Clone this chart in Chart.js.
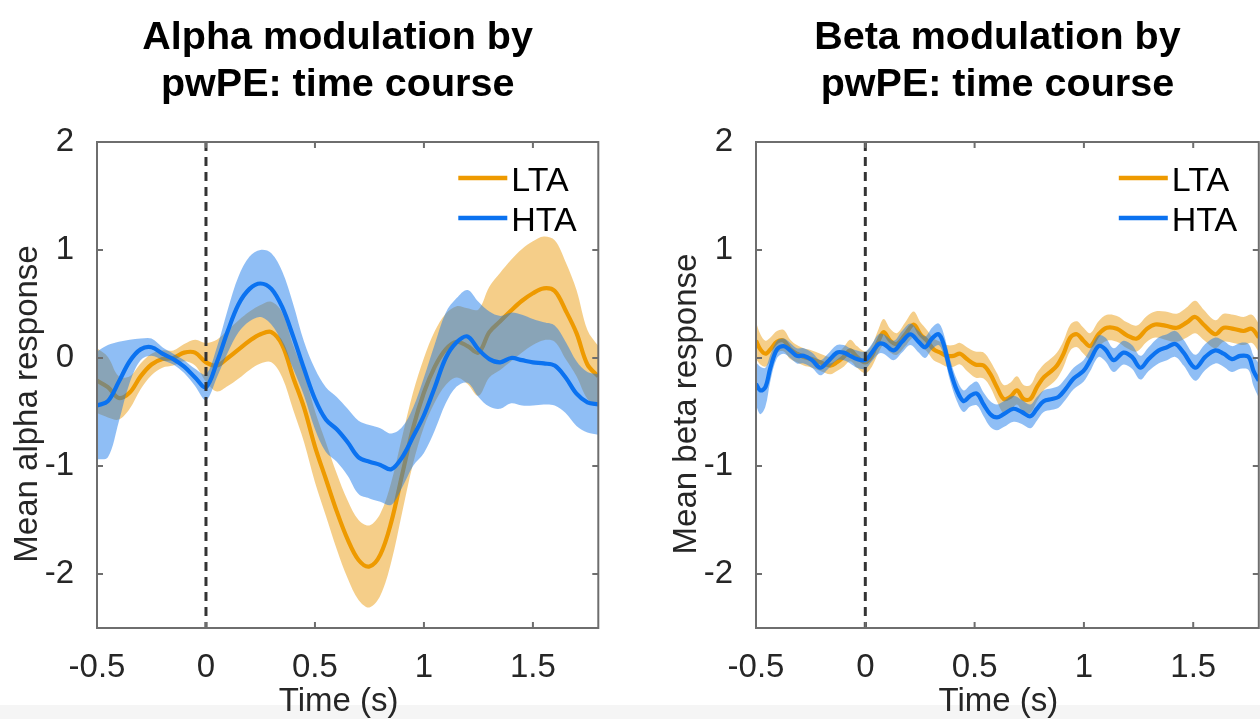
<!DOCTYPE html>
<html>
<head>
<meta charset="utf-8">
<title>Alpha and beta modulation by pwPE</title>
<script src="https://cdn.jsdelivr.net/npm/chart.js@4.4.1/dist/chart.umd.min.js"></script>
<style>
  html, body { margin: 0; padding: 0; background: #fff; }
  #wrap { position: relative; width: 1260px; height: 719px; overflow: hidden; background: #fff; }
  #strip { position: absolute; left: 0; top: 705px; width: 1260px; height: 14px; background: #f5f5f5; }
  .panel { position: absolute; top: 0; width: 630px; height: 719px; }
</style>
</head>
<body>
<div id="wrap">
  <div id="strip"></div>
  <div class="panel" style="left:0"><canvas id="alpha" width="630" height="719"></canvas></div>
  <div class="panel" style="left:630px"><canvas id="beta" width="630" height="719"></canvas></div>
</div>
<script>
// ---- axes ----
const xMin = -0.5, xMax = 1.8;
const yMin = -2.5, yMax = 2;
const xTickValues = [-0.5, 0, 0.5, 1, 1.5];
const yTickValues = [-2, -1, 0, 1, 2];
const stimulusOnset = 0;

// ---- alpha band (left panel), 50 ms steps ----
const alphaTime = [-0.50,-0.45,-0.40,-0.35,-0.30,-0.25,-0.20,-0.15,-0.10,-0.05,0.00,0.05,0.10,0.15,0.20,0.25,0.30,0.35,0.40,0.45,0.50,0.55,0.60,0.65,0.70,0.75,0.80,0.85,0.90,0.95,1.00,1.05,1.10,1.15,1.20,1.25,1.30,1.35,1.40,1.45,1.50,1.55,1.60,1.65,1.70,1.75,1.80];
const alphaLTA = [-0.21,-0.27,-0.37,-0.32,-0.17,-0.06,-0.01,0.00,0.05,0.05,-0.04,-0.07,0.00,0.08,0.16,0.22,0.24,0.12,-0.18,-0.46,-0.82,-1.12,-1.42,-1.68,-1.87,-1.93,-1.82,-1.52,-1.08,-0.65,-0.32,-0.08,0.08,0.15,0.11,0.05,0.24,0.34,0.44,0.53,0.60,0.645,0.62,0.44,0.23,-0.06,-0.17];
const alphaLTASem = [0.30,0.28,0.20,0.15,0.12,0.10,0.08,0.07,0.08,0.12,0.18,0.24,0.26,0.27,0.27,0.27,0.28,0.30,0.30,0.32,0.33,0.34,0.35,0.36,0.37,0.38,0.38,0.37,0.35,0.33,0.32,0.33,0.33,0.33,0.35,0.40,0.42,0.45,0.47,0.48,0.48,0.48,0.47,0.45,0.40,0.32,0.28];
const alphaHTA = [-0.44,-0.40,-0.22,-0.03,0.08,0.10,0.04,-0.01,-0.08,-0.18,-0.27,-0.04,0.25,0.50,0.64,0.69,0.64,0.47,0.20,-0.10,-0.38,-0.57,-0.66,-0.78,-0.92,-0.96,-0.99,-1.03,-0.92,-0.73,-0.53,-0.27,0.00,0.145,0.20,0.08,-0.01,-0.04,0.00,-0.02,-0.04,-0.05,-0.07,-0.18,-0.33,-0.41,-0.43];
const alphaHTASem = [0.50,0.52,0.37,0.20,0.10,0.08,0.06,0.05,0.06,0.08,0.12,0.14,0.20,0.26,0.30,0.31,0.33,0.33,0.30,0.25,0.28,0.30,0.30,0.31,0.34,0.34,0.34,0.33,0.28,0.27,0.35,0.40,0.42,0.41,0.43,0.44,0.44,0.43,0.42,0.42,0.40,0.38,0.37,0.33,0.30,0.28,0.28];

// ---- beta band (right panel) ----
const betaTimeLTA = [-0.50,-0.48,-0.457,-0.434,-0.404,-0.373,-0.343,-0.313,-0.282,-0.244,-0.206,-0.16,-0.13,-0.099,-0.069,-0.038,0.00,0.03,0.061,0.084,0.114,0.145,0.183,0.221,0.252,0.282,0.3125,0.343,0.373,0.404,0.434,0.465,0.503,0.541,0.572,0.602,0.633,0.663,0.694,0.724,0.755,0.785,0.816,0.846,0.877,0.907,0.938,0.968,0.998,1.029,1.067,1.105,1.151,1.197,1.242,1.288,1.326,1.372,1.425,1.471,1.509,1.547,1.601,1.639,1.684,1.73,1.768,1.80];
const betaLTA = [0.16,0.08,0.04,0.08,0.15,0.16,0.08,0.04,0.01,-0.01,-0.04,-0.07,-0.04,0.01,0.07,0.01,-0.04,0.02,0.16,0.24,0.16,0.13,0.22,0.31,0.22,0.16,0.08,0.05,0.02,0.02,0.04,-0.01,-0.06,-0.07,-0.15,-0.27,-0.38,-0.36,-0.30,-0.38,-0.38,-0.27,-0.18,-0.13,-0.07,0.04,0.19,0.22,0.16,0.11,0.22,0.28,0.27,0.21,0.18,0.27,0.31,0.30,0.28,0.33,0.38,0.31,0.22,0.28,0.27,0.25,0.27,0.19];
const betaLTASem = [0.17,0.14,0.12,0.11,0.10,0.10,0.09,0.08,0.08,0.08,0.08,0.08,0.08,0.09,0.10,0.10,0.10,0.10,0.11,0.12,0.11,0.10,0.11,0.12,0.11,0.10,0.10,0.10,0.10,0.10,0.10,0.11,0.12,0.12,0.12,0.13,0.13,0.13,0.13,0.13,0.13,0.13,0.12,0.12,0.12,0.12,0.12,0.12,0.12,0.12,0.12,0.12,0.12,0.12,0.12,0.12,0.12,0.13,0.13,0.14,0.15,0.14,0.13,0.13,0.13,0.13,0.13,0.13];
const betaTimeHTA = [-0.50,-0.48,-0.457,-0.434,-0.404,-0.373,-0.343,-0.313,-0.282,-0.244,-0.206,-0.175,-0.13,-0.099,-0.069,-0.038,0.00,0.03,0.061,0.084,0.13,0.168,0.206,0.244,0.274,0.305,0.335,0.358,0.389,0.419,0.45,0.48,0.511,0.541,0.572,0.602,0.633,0.678,0.716,0.755,0.785,0.816,0.854,0.884,0.915,0.953,0.998,1.029,1.067,1.098,1.136,1.181,1.22,1.258,1.296,1.341,1.38,1.418,1.456,1.509,1.555,1.601,1.639,1.677,1.715,1.753,1.776,1.80];
const betaHTA = [-0.24,-0.30,-0.27,-0.09,0.08,0.11,0.07,0.02,0.02,-0.02,-0.09,-0.04,0.05,0.05,0.02,-0.01,-0.02,0.05,0.13,0.13,0.07,0.15,0.22,0.15,0.10,0.18,0.22,0.13,-0.12,-0.30,-0.40,-0.35,-0.33,-0.43,-0.52,-0.55,-0.52,-0.47,-0.50,-0.54,-0.47,-0.40,-0.38,-0.36,-0.29,-0.19,-0.12,-0.02,0.11,0.08,-0.02,0.05,0.01,-0.09,-0.01,0.07,0.10,0.13,0.05,-0.09,0.01,0.07,0.04,-0.01,0.02,0.01,-0.12,-0.21];
const betaHTASem = [0.20,0.22,0.18,0.12,0.08,0.07,0.07,0.07,0.07,0.07,0.07,0.07,0.07,0.07,0.07,0.08,0.08,0.08,0.09,0.09,0.09,0.10,0.10,0.10,0.10,0.10,0.10,0.10,0.10,0.10,0.10,0.10,0.11,0.11,0.12,0.12,0.12,0.12,0.11,0.11,0.11,0.10,0.10,0.10,0.10,0.10,0.10,0.10,0.10,0.11,0.11,0.11,0.11,0.11,0.11,0.12,0.12,0.12,0.12,0.12,0.12,0.12,0.12,0.12,0.12,0.12,0.14,0.16];

// ---- styling ----
const FONT = '"Liberation Sans", Arial, Helvetica, sans-serif';
const TEXT = '#262626';
const LTA_LINE = '#EE9A00';
const LTA_FILL = 'rgba(236,158,20,0.5)';
const HTA_LINE = '#0B72F0';
const HTA_FILL = 'rgba(20,120,235,0.48)';
const FRAME = '#6e6e6e';
const TICK_SIZE = 33;

Chart.defaults.font.family = FONT;
Chart.defaults.color = TEXT;

// mean line plus a shaded mean ± SEM band (upper fills down to lower)
function seriesWithBand(label, rank, time, mean, sem, lineColor, fillColor, baseOrder) {
  const pts = f => time.map((t, i) => ({ x: t, y: f(i) }));
  const common = { pointRadius: 0, pointHoverRadius: 0, tension: 0.35 };
  return [
    Object.assign({ label, legendRank: rank, data: pts(i => mean[i]),
      borderColor: lineColor, borderWidth: 4.2, fill: false, order: baseOrder }, common),
    Object.assign({ label: label + ' upper', data: pts(i => mean[i] + sem[i]),
      borderColor: 'rgba(0,0,0,0)', borderWidth: 0, backgroundColor: fillColor,
      fill: '+1', order: baseOrder + 1 }, common),
    Object.assign({ label: label + ' lower', data: pts(i => mean[i] - sem[i]),
      borderColor: 'rgba(0,0,0,0)', borderWidth: 0, fill: false, order: baseOrder + 2 }, common)
  ];
}

// box around the axes with inward tick marks on all four sides
const frameTicks = {
  id: 'frameTicks',
  afterDatasetsDraw(chart) {
    const { ctx, chartArea: a, scales: { x, y } } = chart;
    const L = 6;
    ctx.save();
    ctx.strokeStyle = FRAME;
    ctx.lineWidth = 2;
    ctx.beginPath();
    x.ticks.forEach(t => {
      const px = x.getPixelForValue(t.value);
      ctx.moveTo(px, a.bottom); ctx.lineTo(px, a.bottom - L);
      ctx.moveTo(px, a.top); ctx.lineTo(px, a.top + L);
    });
    y.ticks.forEach(t => {
      const py = y.getPixelForValue(t.value);
      ctx.moveTo(a.left, py); ctx.lineTo(a.left + L, py);
      ctx.moveTo(a.right, py); ctx.lineTo(a.right - L, py);
    });
    ctx.stroke();
    ctx.strokeRect(a.left, a.top, a.right - a.left, a.bottom - a.top);
    ctx.restore();
  }
};

// panel title, axis titles and the in-axes legend
const panelText = {
  id: 'panelText',
  afterDraw(chart, args, opts) {
    const { ctx, chartArea: a } = chart;
    const cx = (a.left + a.right) / 2 - 10;
    ctx.save();
    ctx.textAlign = 'center';
    ctx.textBaseline = 'alphabetic';
    ctx.fillStyle = '#000';
    ctx.font = 'bold 39.5px ' + FONT;
    opts.title.forEach((line, i) => ctx.fillText(line, cx, 49 + i * 47));

    ctx.fillStyle = TEXT;
    ctx.font = '33px ' + FONT;
    ctx.fillText(opts.xTitle, cx + 1, 711);

    ctx.save();
    ctx.translate(a.left - 60, 404);
    ctx.rotate(-Math.PI / 2);
    ctx.fillText(opts.yTitle, 0, 0);
    ctx.restore();

    // legend
    const entries = chart.data.datasets.filter(d => d.legendRank !== undefined)
      .sort((p, q) => p.legendRank - q.legendRank);
    ctx.textAlign = 'left';
    ctx.fillStyle = '#000';
    ctx.font = '34px ' + FONT;
    entries.forEach((d, i) => {
      const ly = a.top + 36 + i * 40;
      ctx.strokeStyle = d.borderColor;
      ctx.lineWidth = 4.5;
      ctx.beginPath();
      ctx.moveTo(a.right - 140, ly);
      ctx.lineTo(a.right - 91, ly);
      ctx.stroke();
      ctx.fillText(d.label, a.right - 87, ly + 13);
    });
    ctx.restore();
  }
};

function makePanel(canvasId, cfg) {
  const datasets = [
    { label: 'onset', data: [{ x: stimulusOnset, y: yMax }, { x: stimulusOnset, y: yMin }],
      borderColor: '#333333', borderWidth: 3, borderDash: [9, 6], pointRadius: 0,
      fill: false, tension: 0, order: 0 },
    ...seriesWithBand('HTA', 1, cfg.hTime, cfg.hta, cfg.htaSem, HTA_LINE, HTA_FILL, 1),
    ...seriesWithBand('LTA', 0, cfg.lTime, cfg.lta, cfg.ltaSem, LTA_LINE, LTA_FILL, 4)
  ];
  return new Chart(document.getElementById(canvasId), {
    type: 'line',
    data: { datasets },
    plugins: [frameTicks, panelText],
    options: {
      responsive: false,
      animation: false,
      events: [],
      devicePixelRatio: 1,
      layout: { padding: { top: 142, right: cfg.padRight, left: 0, bottom: 0 } },
      scales: {
        x: {
          type: 'linear', min: xMin, max: xMax,
          afterBuildTicks: s => { s.ticks = xTickValues.map(v => ({ value: v })); },
          afterFit: s => { s.height = 91; },
          grid: { display: false },
          border: { display: false },
          ticks: { font: { size: TICK_SIZE }, color: TEXT, padding: 12, maxRotation: 0,
                   autoSkip: false, callback: v => String(v) }
        },
        y: {
          type: 'linear', min: yMin, max: yMax,
          afterBuildTicks: s => { s.ticks = yTickValues.map(v => ({ value: v })); },
          afterFit: s => { s.width = cfg.axisWidth; },
          grid: { display: false },
          border: { display: false },
          ticks: { font: { size: TICK_SIZE }, color: TEXT, padding: 15, callback: v => String(v) }
        }
      },
      plugins: {
        legend: { display: false },
        tooltip: { enabled: false },
        panelText: { title: cfg.title, xTitle: 'Time (s)', yTitle: cfg.yTitle }
      }
    }
  });
}

makePanel('alpha', {
  title: ['Alpha modulation by', 'pwPE: time course'],
  yTitle: 'Mean alpha response',
  lTime: alphaTime, lta: alphaLTA, ltaSem: alphaLTASem,
  hTime: alphaTime, hta: alphaHTA, htaSem: alphaHTASem,
  axisWidth: 97, padRight: 31.7
});

makePanel('beta', {
  title: ['Beta modulation by', 'pwPE: time course'],
  yTitle: 'Mean beta response',
  lTime: betaTimeLTA, lta: betaLTA, ltaSem: betaLTASem,
  hTime: betaTimeHTA, hta: betaHTA, htaSem: betaHTASem,
  axisWidth: 126, padRight: 1.2
});
</script>
</body>
</html>
